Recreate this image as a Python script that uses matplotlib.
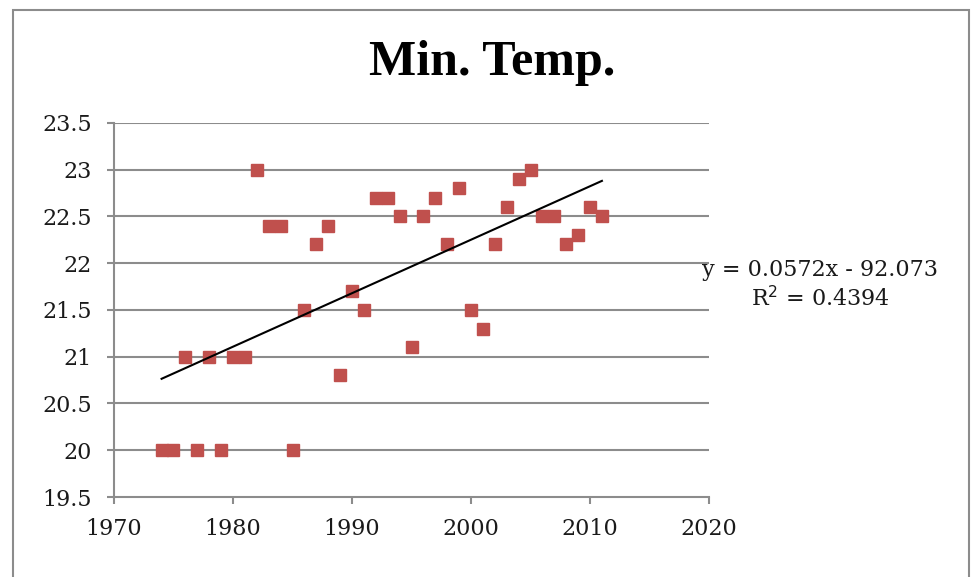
import numpy as np
import matplotlib
matplotlib.use("Agg")
import matplotlib.pyplot as plt
from matplotlib.patches import Rectangle

# data
years = [1974, 1975, 1976, 1977, 1978, 1979, 1980, 1981, 1982, 1983,
         1984, 1985, 1986, 1987, 1988, 1989, 1990, 1991, 1992, 1993,
         1994, 1995, 1996, 1997, 1998, 1999, 2000, 2001, 2002, 2003,
         2004, 2005, 2006, 2007, 2008, 2009, 2010, 2011]
min_temp = [20.0, 20.0, 21.0, 20.0, 21.0, 20.0, 21.0, 21.0, 23.0, 22.4,
            22.4, 20.0, 21.5, 22.2, 22.4, 20.8, 21.7, 21.5, 22.7, 22.7,
            22.5, 21.1, 22.5, 22.7, 22.2, 22.8, 21.5, 21.3, 22.2, 22.6,
            22.9, 23.0, 22.5, 22.5, 22.2, 22.3, 22.6, 22.5]
eq_text = "y = 0.0572x - 92.073"
r2_text = "R$^2$ = 0.4394"

x_ticks = [1970, 1980, 1990, 2000, 2010, 2020]
y_ticks = [19.5, 20, 20.5, 21, 21.5, 22, 22.5, 23, 23.5]

plt.rcParams['font.family'] = ['DejaVu Serif']

fig = plt.figure(figsize=(9.71, 5.77), dpi=100)
ax = fig.add_axes([0.1174, 0.1386, 0.6128, 0.6487])

# outer chart border
fig.patches.append(Rectangle((13 / 971, -0.05), (969 - 13) / 971, 1.05 - 10 / 577,
                             transform=fig.transFigure, fill=False,
                             edgecolor="#8c8c8c", linewidth=1.5))

gray = "#8c8c8c"
for yv in y_ticks[1:]:
    ax.axhline(yv, color=gray, linewidth=1.5, zorder=1)

ax.plot(years, min_temp, linestyle="none", marker="s", markersize=8.5,
        color="#c0504d", markeredgecolor="#c0504d", zorder=3)

# linear trend line fitted to the points
slope, intercept = np.polyfit(years, min_temp, 1)
xs = np.array([min(years), max(years)])
ax.plot(xs, slope * xs + intercept, color="black", linewidth=1.5, zorder=4)

ax.set_xlim(1970, 2020)
ax.set_ylim(19.5, 23.5)
ax.set_xticks(x_ticks)
ax.set_yticks(y_ticks)
ax.set_yticklabels([f"{v:g}" for v in y_ticks])

for side in ["top", "right"]:
    ax.spines[side].set_visible(False)
for side in ["left", "bottom"]:
    ax.spines[side].set_color(gray)
    ax.spines[side].set_linewidth(1.5)
ax.tick_params(axis="both", direction="out", length=5, width=1.5, color=gray,
               labelsize=16, labelcolor="#1a1a1a")
ax.tick_params(axis="x", pad=10)
ax.tick_params(axis="y", pad=11)

fig.text(492 / 971, 1 - 75 / 577, "Min. Temp.", ha="center", va="baseline",
         fontsize=36, fontweight="bold", family="Liberation Serif")
fig.text(820 / 971, 1 - 270 / 577, eq_text,
         ha="center", va="center", fontsize=16, color="#1a1a1a")
fig.text(820 / 971, 1 - 299 / 577, r2_text, ha="center", va="center",
         fontsize=16, color="#1a1a1a")

fig.savefig("out.png", dpi=100)
